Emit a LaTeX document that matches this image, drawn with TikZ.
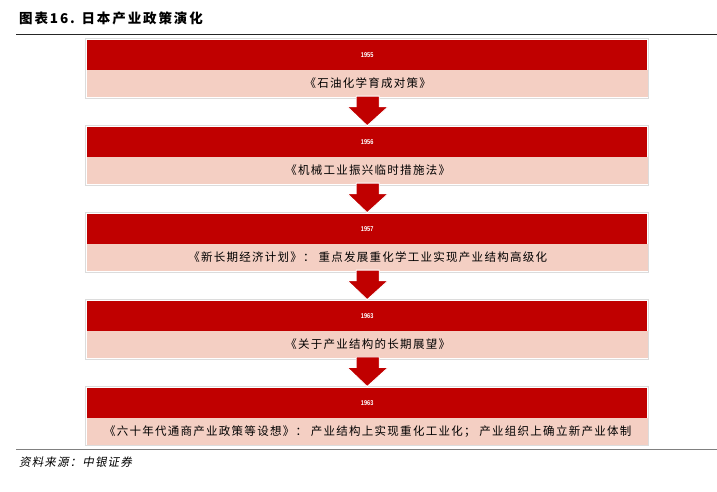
\documentclass[tikz,border=0pt]{standalone}
\usepackage{fontspec}
\usetikzlibrary{calc}
\newfontfamily\cjk[LetterSpace=11]{Noto Sans CJK SC}
\newfontfamily\cjkt[LetterSpace=14]{Noto Sans CJK SC}
\newfontfamily\cjkit[FakeSlant=0.2,LetterSpace=10]{Noto Sans CJK SC}
\newfontfamily\yearfont[FakeStretch=0.8]{Liberation Sans}
\definecolor{bandred}{HTML}{C00000}
\definecolor{bandpink}{HTML}{F4CFC3}
\definecolor{framegray}{HTML}{DCDCDC}
\tikzset{
  redband/.style={anchor=north west, minimum width=560pt, minimum height=29.5pt, inner sep=0pt,
    fill=bandred, text=white, font=\yearfont\bfseries\fontsize{7}{8}\selectfont},
  pinkband/.style={anchor=north west, minimum width=561pt, minimum height=27pt, inner sep=0pt,
    fill=bandpink, text=black, font=\cjk\fontsize{11.5}{13}\selectfont},
  framebox/.style={draw=framegray, line width=0.7pt, fill=white},
  downarrow/.style={fill=bandred, draw=white, line width=0.9pt, line join=miter},
}
\begin{document}
\begin{tikzpicture}[x=1pt,y=-1pt]
\useasboundingbox (0,0) rectangle (717,492);
% title
\node[anchor=west, inner sep=0pt, font=\cjkt\bfseries\fontsize{13.5}{15}\selectfont] (title) at (19,18) {图表16. 日本产业政策演化};
\draw[line width=1pt, black!85] (16,34.5) -- (717,34.5);
% boxes
\foreach \yr/\txt [count=\i] in {
  1955/{《石油化学育成对策》},
  1956/{《机械工业振兴临时措施法》},
  1957/{《新长期经济计划》： 重点发展重化学工业实现产业结构高级化},
  1963/{《关于产业结构的长期展望》},
  1963/{《六十年代通商产业政策等设想》： 产业结构上实现重化工业化； 产业组织上确立新产业体制}} {
  \pgfmathsetmacro\t{40.3+(\i-1)*86.93}
  \draw[framebox] (85.7,\t-2) rectangle (648.3,\t+57.8);
  \node[redband] (r\i) at (87,\t) {\yr};
  \node[pinkband] (p\i) at (87,\t+29.5) {\txt};
}
% arrows
\foreach \i in {1,2,3,4} {
  \pgfmathtruncatemacro\j{\i+1}
  \draw[downarrow]
    ($(p\i.south)+(-11.5,-1)$) -- ($(p\i.south)+(11.5,-1)$) --
    ($(p\i.south)+(11.5,9.5)$) -- ($(p\i.south)+(20.5,9.5)$) --
    ($(r\j.north)+(0,-1.5)$) --
    ($(p\i.south)+(-20.5,9.5)$) -- ($(p\i.south)+(-11.5,9.5)$) -- cycle;
}
% bottom rule and source
\draw[line width=1.4pt, black!50] (16,449.5) -- (717,449.5);
\node[anchor=west, inner sep=0pt, font=\cjkit\fontsize{11.5}{13}\selectfont] (src) at (19,462) {资料来源：中银证券};
\end{tikzpicture}
\end{document}
